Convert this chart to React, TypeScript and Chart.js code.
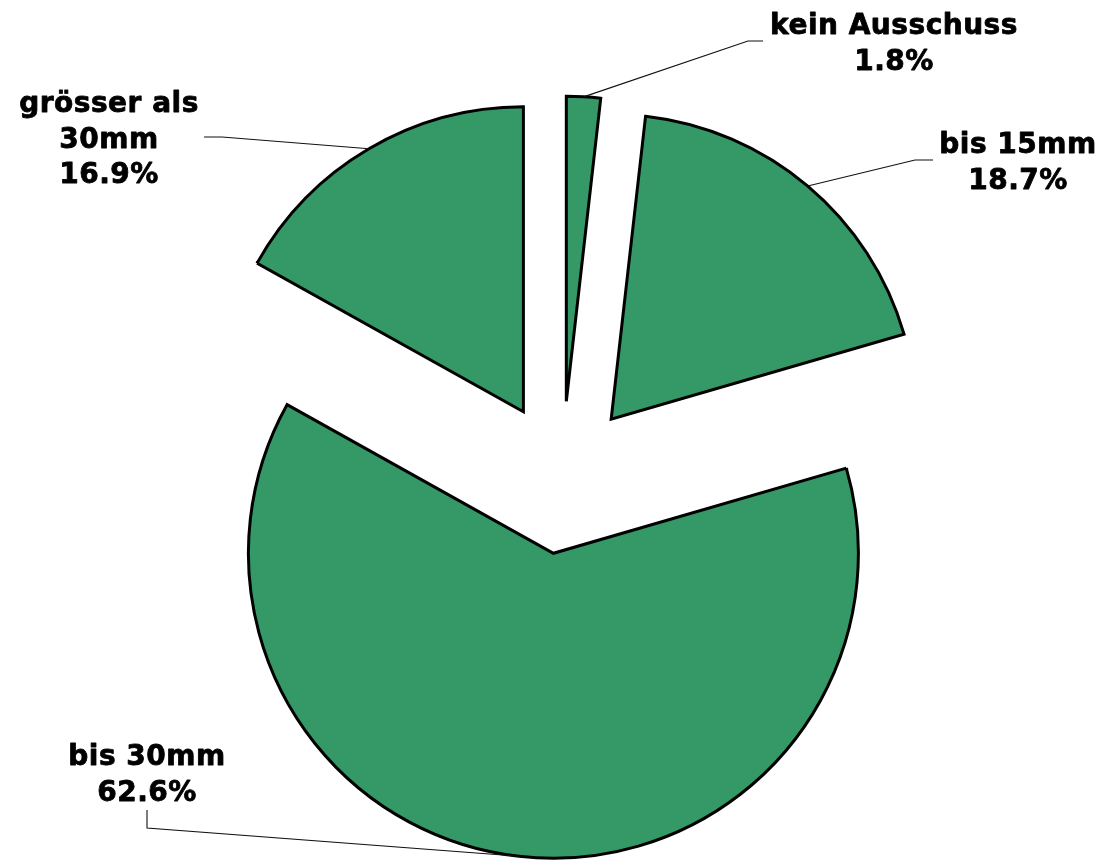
import React, { useEffect, useRef } from 'react';
import { Chart, ArcElement, PieController } from 'chart.js';

Chart.register(ArcElement, PieController);

// ---- data ----
const categories = ['kein Ausschuss', 'bis 15mm', 'bis 30mm', 'grösser als 30mm'];
const shares = [1.8, 18.7, 62.6, 16.9];

// ---- label layout (positions of data labels and leader lines) ----
const labelCenterX = [894, 1018, 147, 109];
const labelBaselineY = [34, 153, 765, 112];
const labelWrapWidth = [330, 330, 330, 210];
const leaderElbow: [number, number][] = [[748, 41], [915, 160], [147, 828], [222, 137]];
const leaderEnd: [number, number][] = [[763, 41], [933, 160], [147, 810], [204, 137]];

const SLICE_COLOR = '#349966';
const EXPLODE = 0.25; // fraction of radius
const FONT = 'bold 28px "DejaVu Sans"';
const LINE_HEIGHT = 35.5;

function wrap(ctx: CanvasRenderingContext2D, text: string, maxW: number): string[] {
  const words = text.split(' ');
  const lines: string[] = [];
  let cur = '';
  for (const w of words) {
    const test = cur ? cur + ' ' + w : w;
    if (cur && ctx.measureText(test).width > maxW) {
      lines.push(cur);
      cur = w;
    } else {
      cur = test;
    }
  }
  if (cur) lines.push(cur);
  return lines;
}

const explodePlugin = {
  id: 'explodeSlices',
  beforeDatasetsDraw(chart: any) {
    const ctx = chart.ctx as CanvasRenderingContext2D;
    const meta = chart.getDatasetMeta(0);
    meta.data.forEach((arc: any) => {
      const mid = (arc.startAngle + arc.endAngle) / 2;
      const d = EXPLODE * arc.outerRadius;
      ctx.save();
      ctx.translate(Math.cos(mid) * d, Math.sin(mid) * d);
      arc.draw(ctx);
      ctx.restore();
    });
    return false;
  },
};

const labelPlugin = {
  id: 'sliceLabels',
  afterDraw(chart: any) {
    const ctx = chart.ctx as CanvasRenderingContext2D;
    const meta = chart.getDatasetMeta(0);
    meta.data.forEach((arc: any, i: number) => {
      const mid = (arc.startAngle + arc.endAngle) / 2;
      const r = arc.outerRadius;
      const d = EXPLODE * r;
      const ax = arc.x + Math.cos(mid) * (d + r);
      const ay = arc.y + Math.sin(mid) * (d + r);
      ctx.save();
      ctx.strokeStyle = '#111';
      ctx.lineWidth = 1.1;
      ctx.beginPath();
      ctx.moveTo(ax, ay);
      ctx.lineTo(leaderElbow[i][0], leaderElbow[i][1]);
      ctx.lineTo(leaderEnd[i][0], leaderEnd[i][1]);
      ctx.stroke();

      ctx.font = FONT;
      (ctx as any).letterSpacing = '0.5px';
      ctx.fillStyle = '#000';
      ctx.strokeStyle = '#000';
      ctx.lineWidth = 0.8;
      ctx.lineJoin = 'round';
      ctx.textAlign = 'center';
      ctx.textBaseline = 'alphabetic';
      const lines = wrap(ctx, categories[i], labelWrapWidth[i]);
      lines.push(shares[i].toFixed(1) + '%');
      lines.forEach((ln, k) => {
        const y = labelBaselineY[i] + k * LINE_HEIGHT;
        ctx.fillText(ln, labelCenterX[i], y);
        ctx.strokeText(ln, labelCenterX[i], y);
      });
      ctx.restore();
    });
  },
};

export default function App() {
  const ref = useRef<HTMLCanvasElement | null>(null);
  useEffect(() => {
    if (!ref.current) return;
    const chart = new Chart(ref.current, {
      type: 'pie',
      data: {
        labels: categories,
        datasets: [
          {
            data: shares,
            backgroundColor: SLICE_COLOR,
            borderColor: '#000',
            borderWidth: 3,
            borderJoinStyle: 'miter',
            borderAlign: 'center',
            offset: 0,
            hoverOffset: 0,
            clip: false,
          } as any,
        ],
      },
      options: {
        responsive: false,
        animation: false,
        events: [],
        radius: 305,
        layout: { padding: { left: 20, right: 0, top: 94, bottom: 0 } },
        plugins: {
          legend: { display: false },
          tooltip: { enabled: false },
        },
      } as any,
      plugins: [explodePlugin, labelPlugin],
    });
    return () => chart.destroy();
  }, []);
  return (
    <div style={{ position: 'absolute', left: 0, top: 0, width: 1104, height: 861, background: '#fff' }}>
      <canvas ref={ref} width={1104} height={861} style={{ display: 'block' }} />
    </div>
  );
}
